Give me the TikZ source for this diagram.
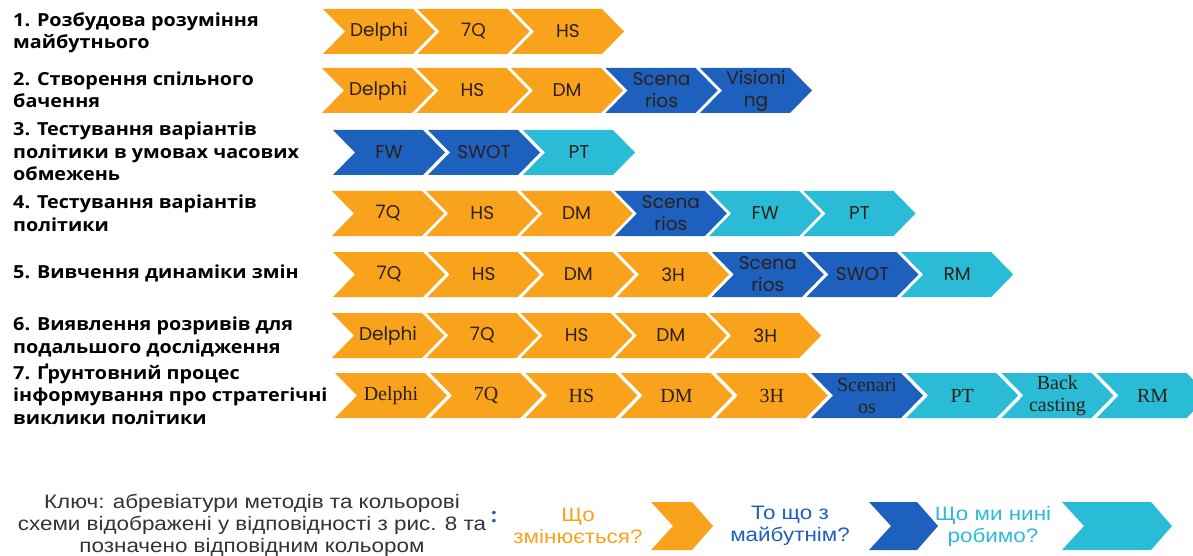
\documentclass[tikz,border=0pt]{standalone}
\usepackage{fontspec}
\setmainfont{Open Sans}
\newfontfamily\chevfont{Poppins}
\newfontfamily\serfont{Liberation Serif}
\newfontfamily\labfont[FakeStretch=1.1]{Open Sans}
\newfontfamily\keyfont[FakeStretch=1.15]{Liberation Sans}
\definecolor{cor}{HTML}{F9A21B}
\definecolor{cbl}{HTML}{1E60BE}
\definecolor{ccy}{HTML}{2ABCD6}
\definecolor{tdark}{HTML}{2B2118}
\definecolor{kgray}{HTML}{333333}
\tikzset{
  or/.style={fill=cor},
  bl/.style={fill=cbl},
  cy/.style={fill=ccy},
  chevtext/.style={font=\chevfont\fontsize{18.5}{22}\selectfont, text=tdark, align=center, inner sep=0pt},
  sertext/.style={font=\serfont\fontsize{20}{22}\selectfont},
  rowlabel/.style={font=\labfont\bfseries\fontsize{18}{22.5}\selectfont, text=black, align=left, inner sep=0pt, anchor=base west},
  keytext/.style={font=\keyfont\fontsize{19.5}{22}\selectfont, align=center, inner sep=0pt},
}
% #1 extra text style, #2 name, #3 x left, #4 y top, #5 colour style, #6 text
\newcommand\chev[6][]{%
  \path[#5] (#3,#4) -- ++(90,0) -- ++(22,22.5) -- ++(-22,22.5) -- ++(-90,0) -- ++(22,-22.5) -- cycle;
  \node[chevtext,#1] (#2) at ({#3+56},{#4+22.5}) {#6};
}
\newcommand\keychev[4]{% x left, x tip, colour, name
  \path[#3] (#1,502) -- ({#2-21},502) -- (#2,526) -- ({#2-21},550) -- (#1,550) -- ({#1+22},526) -- cycle;
  \coordinate (#4) at ({(#1+#2)/2},526);
}
\begin{document}
\begin{tikzpicture}[x=1pt,y=-1pt]
\useasboundingbox (0,0) rectangle (1193,556);
\clip (0,0) rectangle (1193,556);
% row labels (anchored at the baseline of the last line)
\node[rowlabel] (l1) at (13,49) {1. Розбудова розуміння\\майбутнього};
\node[rowlabel] (l2) at (13,108) {2. Створення спільного\\бачення};
\node[rowlabel] (l3) at (13,181) {3. Тестування варіантів\\політики в умовах часових\\обмежень};
\node[rowlabel] (l4) at (13,231) {4. Тестування варіантів\\політики};
\node[rowlabel] (l5) at (13,278) {5. Вивчення динаміки змін};
\node[rowlabel] (l6) at (13,353) {6. Виявлення розривів для\\подальшого дослідження};
\node[rowlabel] (l7) at (13,424) {7. Ґрунтовний процес\\інформування про стратегічні\\виклики політики};
% rows of chevrons
\foreach \t/\c [count=\i from 0] in {Delphi/or,7Q/or,HS/or}
  {\chev{r1c\i}{323+\i*94.5}{9}{\c}{\t}}
\foreach \t/\c [count=\i from 0] in {Delphi/or,HS/or,DM/or,{Scena\\rios}/bl,{Visioni\\ng}/bl}
  {\chev{r2c\i}{322+\i*94.5}{68}{\c}{\t}}
\foreach \t/\c [count=\i from 0] in {FW/bl,SWOT/bl,PT/cy}
  {\chev{r3c\i}{333+\i*95}{130}{\c}{\t}}
\foreach \t/\c [count=\i from 0] in {7Q/or,HS/or,DM/or,{Scena\\rios}/bl,FW/cy,PT/cy}
  {\chev{r4c\i}{332+\i*94.3}{191}{\c}{\t}}
\foreach \t/\c [count=\i from 0] in {7Q/or,HS/or,DM/or,3H/or,{Scena\\rios}/bl,SWOT/bl,RM/cy}
  {\chev{r5c\i}{333+\i*94.7}{252}{\c}{\t}}
\foreach \t/\c [count=\i from 0] in {Delphi/or,7Q/or,HS/or,DM/or,3H/or}
  {\chev{r6c\i}{332+\i*94.3}{313}{\c}{\t}}
\foreach \t/\c [count=\i from 0] in {Delphi/or,7Q/or,HS/or,DM/or,3H/or,{Scenari\\os}/bl,PT/cy,{Back\\casting}/cy,RM/cy}
  {\chev[sertext]{r7c\i}{335+\i*95.2}{373}{\c}{\t}}
% key
\node[keytext, text=kgray] (key) at (252,525) {Ключ: абревіатури методів та кольорові\\схеми відображені у відповідності з рис. 8 та\\позначено відповідним кольором};
\node[font=\labfont\bfseries\fontsize{20}{20}\selectfont, text=cbl, inner sep=0pt] (colon) at (494,517) {:};
\node[keytext, text=cor] (k1) at (578,526) {Що\\змінюється?};
\keychev{651}{713}{or}{kc1}
\node[keytext, text=cbl] (k2) at (790,526) {То що з\\майбутнім?};
\keychev{869}{938}{bl}{kc2}
\node[keytext, text=ccy] (k3) at (993,526) {Що ми нині\\робимо?};
\keychev{1062}{1172}{cy}{kc3}
\end{tikzpicture}
\end{document}
